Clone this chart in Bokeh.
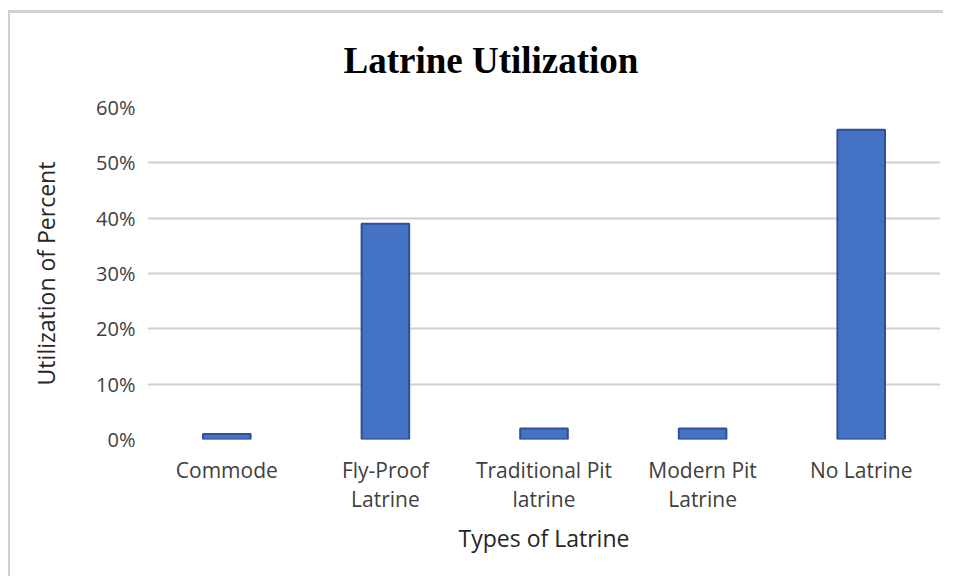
from bokeh.plotting import figure
from bokeh.models import ColumnDataSource, FactorRange, NumeralTickFormatter, FixedTicker
from bokeh.embed import file_html
from bokeh.resources import INLINE

categories = ["Commode", "Fly-Proof\nLatrine", "Traditional Pit\nlatrine", "Modern Pit\nLatrine", "No Latrine"]
values = [0.01, 0.39, 0.02, 0.02, 0.56]
y_ticks = [0.0, 0.1, 0.2, 0.3, 0.4, 0.5, 0.6]
title_text = "Latrine Utilization"
x_title = "Types of Latrine"
y_title = "Utilization of Percent"

src = ColumnDataSource(dict(cat=categories, val=values))

p = figure(width=935, height=566, x_range=FactorRange(*categories), y_range=(0, 0.6),
           output_backend="svg", toolbar_location=None, title=title_text,
           min_border_left=137, min_border_right=5, min_border_top=94, min_border_bottom=140)
p.styles = {"border-left": "2px solid #d0d0d0", "border-top": "3px solid #d0d0d0",
            "margin-left": "8px", "margin-top": "10px"}

p.vbar(x="cat", top="val", width=0.3, source=src, fill_color="#4472C4",
       line_color="#2F4F9A", line_width=2)

p.title.text_font = "Liberation Serif"
p.title.text_font_size = "37px"
p.title.text_font_style = "bold"
p.title.align = "left"
p.title.offset = 196
p.title.vertical_align = "top"
p.title.text_color = "#000000"
p.title.standoff = 50

p.yaxis.ticker = FixedTicker(ticks=y_ticks)
p.yaxis.formatter = NumeralTickFormatter(format="0%")
p.x_range.range_padding = 0
p.x_range.factor_padding = 0

for ax in (p.xaxis[0], p.yaxis[0]):
    ax.axis_line_color = None
    ax.major_tick_line_color = None
    ax.minor_tick_line_color = None
    ax.major_label_text_font = "Open Sans"
    ax.major_label_text_color = "#404040"
    ax.axis_label_text_font = "Open Sans"
    ax.axis_label_text_font_size = "23px"
    ax.axis_label_text_font_style = "normal"
    ax.axis_label_text_color = "#262626"

p.xaxis.major_label_text_font_size = "21px"
p.yaxis.major_label_text_font_size = "20px"
p.xaxis.axis_label = x_title
p.yaxis.axis_label = y_title
p.xaxis.major_label_standoff = 10
p.xaxis.major_label_text_line_height = 1.05
p.xaxis.axis_label_standoff = 6
p.yaxis.major_label_standoff = 6
p.yaxis.axis_label_standoff = 31

p.xgrid.grid_line_color = None
p.ygrid.grid_line_color = "#D0D0D0"
p.ygrid.grid_line_width = 2
p.outline_line_color = None

open("out.html", "w").write(file_html(p, INLINE))
